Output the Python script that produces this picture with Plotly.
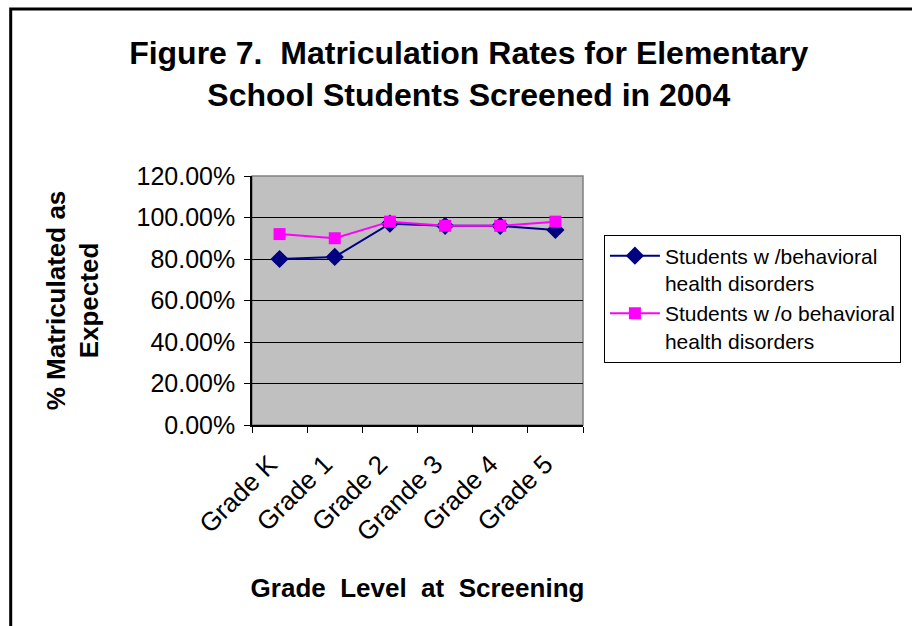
import plotly.graph_objects as go

grades = ["Grade K", "Grade 1", "Grade 2", "Grande 3", "Grade 4", "Grade 5"]
with_disorders = [0.80, 0.81, 0.97, 0.96, 0.96, 0.94]
without_disorders = [0.92, 0.90, 0.98, 0.96, 0.96, 0.98]
y_ticks = [0, 0.2, 0.4, 0.6, 0.8, 1.0, 1.2]

fig = go.Figure()
fig.add_trace(go.Scatter(x=grades, y=with_disorders, mode="lines+markers",
                         name="Students w /behavioral<br>health disorders",
                         line={'color': "#000080", 'width': 2},
                         marker={'symbol': "diamond", 'size': 14, 'color': "#000080"},
                         ))
fig.add_trace(go.Scatter(x=grades, y=without_disorders, mode="lines+markers",
                         name="Students w /o behavioral<br>health disorders",
                         line={'color': "#FF00FF", 'width': 2},
                         marker={'symbol': "square", 'size': 12, 'color': "#FF00FF"},
                         ))

# outer frame of the chart (cut off at right and bottom) and grey plot border
fig.add_shape(type="rect", xref="paper", yref="paper",
              x0=-0.729, x1=2.1, y0=-0.9, y1=1.671,
              line={'color': "black", 'width': 3}, layer="below")
fig.add_shape(type="rect", xref="paper", yref="paper",
              x0=0, x1=1, y0=0, y1=1,
              line={'color': "#808080", 'width': 1.5}, layer="below")

fig.update_layout(
    width=912,
    height=626,
    margin={'l': 252, 'r': 328, 't': 176, 'b': 201},
    paper_bgcolor="white",
    plot_bgcolor="#C0C0C0",
    font={'family': "Liberation Sans, Arial", 'size': 20, 'color': "black"},
    title={
        'text': "<b>Figure 7.  Matriculation Rates for Elementary<br>School Students Screened in 2004</b>",
        'x': 0.514, 'xanchor': "center",
        'y': 0.897, 'yanchor': "middle",
        'font': {'size': 32},
    },
    xaxis={
        'title': {'text': "<b>Grade  Level  at  Screening</b>", 'font': {'size': 26}, 'standoff': 33},
        'tickangle': -45,
        'tickfont': {'size': 26},
        'ticklabelstandoff': 12,
        'ticklabelshift': -10,
        'tickson': "boundaries",
        'ticks': "outside", 'ticklen': 6, 'tickcolor': "black",
        'showline': True, 'linecolor': "black", 'linewidth': 1.5,
        'showgrid': False,
        'range': [-0.5, 5.5],
    },
    yaxis={
        'title': {'text': "<b>% Matriculated as<br>Expected</b>", 'font': {'size': 26}, 'standoff': 30},
        'range': [0, 1.2],
        'tickvals': y_ticks,
        'tickformat': ".2%",
        'tickfont': {'size': 25},
        'ticklabelstandoff': 4,
        'ticks': "outside", 'ticklen': 6, 'tickcolor': "black",
        'showline': True, 'linecolor': "black", 'linewidth': 1.5,
        'gridcolor': "black", 'gridwidth': 1,
        'zeroline': False,
    },
    showlegend=True,
    legend={
        'x': 1.06, 'xanchor': "left",
        'y': 0.765, 'yanchor': "top",
        'bordercolor': "black", 'borderwidth': 1,
        'font': {'size': 21},
        'valign': "top",
        'tracegroupgap': 4,
        'itemwidth': 50,
    },
)

fig.write_html("out.html", config={'displayModeBar': False},
               post_script="document.body.style.margin = '0';")
